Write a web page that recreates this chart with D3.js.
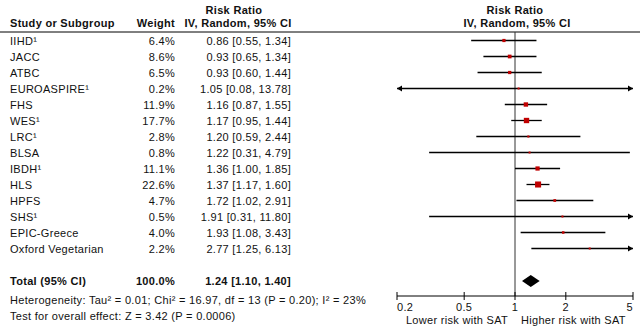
<!DOCTYPE html>
<html><head><meta charset="utf-8">
<script src="https://cdn.jsdelivr.net/npm/d3@7"></script>
<style>body{margin:0;background:#fff}svg{display:block;font-family:"Liberation Sans",Arial,sans-serif}</style>
</head><body>
<script>
const studies = ["IIHD¹","JACC","ATBC","EUROASPIRE¹","FHS","WES¹","LRC¹","BLSA","IBDH¹","HLS","HPFS","SHS¹","EPIC-Greece","Oxford Vegetarian"];
const weights = [6.4,8.6,6.5,0.2,11.9,17.7,2.8,0.8,11.1,22.6,4.7,0.5,4.0,2.2];
const rr = [0.86,0.93,0.93,1.05,1.16,1.17,1.20,1.22,1.36,1.37,1.72,1.91,1.93,2.77];
const lo = [0.55,0.65,0.60,0.08,0.87,0.95,0.59,0.31,1.00,1.17,1.02,0.31,1.08,1.25];
const hi = [1.34,1.34,1.44,13.78,1.55,1.44,2.44,4.79,1.85,1.60,2.91,11.80,3.43,6.13];
const total = {w:"100.0%", rr:1.24, lo:1.10, hi:1.40};
const tickVals = [0.2,0.5,1,2,5];
const tickLabels = ["0.2","0.5","1","2","5"];

const W=644,H=336;
const svg=d3.select("body").append("svg").attr("width",W).attr("height",H);
const x=d3.scaleLog().domain([0.2,5]).range([397,633]);
const y=d3.scalePoint().domain(studies).range([40.5,248.5]);
const fs=11;
const fmt=d3.format(".2f");
const txt=(t,xx,yy,anchor,bold)=>svg.append("text").attr("x",xx).attr("y",yy).attr("text-anchor",anchor||"start")
  .attr("font-size",fs).attr("letter-spacing","0.3px").attr("font-weight",bold?"bold":"normal").attr("fill","#111").text(t);

// headers
txt("Risk Ratio",234,14,"middle",true);
txt("IV, Random, 95% CI",238,27,"middle",true);
txt("Study or Subgroup",10,27,"start",true);
txt("Weight",175,27,"end",true);
txt("Risk Ratio",515,14,"middle",true);
txt("IV, Random, 95% CI",517,27,"middle",true);
svg.append("line").attr("x1",0).attr("x2",640).attr("y1",32).attr("y2",32).attr("stroke","#000").attr("stroke-width",1);

// rows
studies.forEach((s,i)=>{
  const yy=y(s)+4;
  txt(s,10,yy);
  txt(weights[i].toFixed(1)+"%",175,yy,"end");
  txt(fmt(rr[i])+" ["+fmt(lo[i])+", "+fmt(hi[i])+"]",291,yy,"end");
});

// vertical null line
svg.append("line").attr("x1",x(1)).attr("x2",x(1)).attr("y1",32).attr("y2",296).attr("stroke","#333").attr("stroke-width",1);

const [dmin,dmax]=x.domain();
studies.forEach((s,i)=>{
  const yy=y(s);
  const l=Math.max(lo[i],dmin), h=Math.min(hi[i],dmax);
  svg.append("line").attr("x1",x(l)).attr("x2",x(h)).attr("y1",yy).attr("y2",yy).attr("stroke","#000").attr("stroke-width",1.3);
  if(lo[i]<dmin){const xa=x(dmin);svg.append("path").attr("d",`M${xa},${yy}L${xa+5},${yy-3}L${xa+5},${yy+3}Z`).attr("fill","#000");}
  if(hi[i]>dmax){const xa=x(dmax);svg.append("path").attr("d",`M${xa},${yy}L${xa-5},${yy-3}L${xa-5},${yy+3}Z`).attr("fill","#000");}
  const sz=Math.max(2,1.27*Math.sqrt(weights[i]));
  svg.append("rect").attr("x",x(rr[i])-sz/2).attr("y",yy-sz/2).attr("width",sz).attr("height",sz).attr("fill","#c00000");
});

// total
const ty=281;
txt("Total (95% CI)",10,ty+4,"start",true);
txt(total.w,175,ty+4,"end",true);
txt(fmt(total.rr)+" ["+fmt(total.lo)+", "+fmt(total.hi)+"]",291,ty+4,"end",true);
svg.append("path").attr("d",`M${x(total.lo)},${ty}L${x(total.rr)},${ty-6}L${x(total.hi)},${ty}L${x(total.rr)},${ty+6}Z`).attr("fill","#000");
txt("Heterogeneity: Tau² = 0.01; Chi² = 16.97, df = 13 (P = 0.20); I² = 23%",10,304);
txt("Test for overall effect: Z = 3.42 (P = 0.0006)",10,320);

// axis
const ay=296;
svg.append("line").attr("x1",x(dmin)).attr("x2",x(dmax)).attr("y1",ay).attr("y2",ay).attr("stroke","#000").attr("stroke-width",1);
tickVals.forEach((v,i)=>{
  svg.append("line").attr("x1",x(v)).attr("x2",x(v)).attr("y1",ay-4).attr("y2",ay+4).attr("stroke","#000").attr("stroke-width",1);
  const anchor=i===0?"start":(i===tickVals.length-1?"end":"middle");
  txt(tickLabels[i],x(v),ay+15,anchor);
});
txt("Lower risk with SAT",508,324,"end");
txt("Higher risk with SAT",521,324,"start");
</script>
</body></html>
